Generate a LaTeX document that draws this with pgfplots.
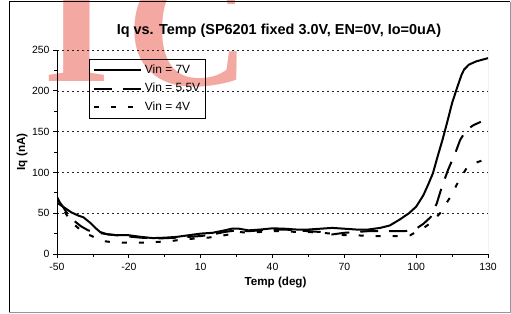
\documentclass[border=0pt]{standalone}
\usepackage{pgfplots}
\pgfplotsset{compat=1.18}
\usepackage{fontspec}
\setmainfont{Liberation Sans}
\newfontfamily\wmfont{Liberation Serif}
\definecolor{wmred}{RGB}{244,168,162}
\definecolor{framegray}{RGB}{150,150,150}
\begin{document}
\begin{tikzpicture}[x=1bp,y=1bp]
\path[use as bounding box] (0,0) rectangle (511,313);
% watermark
\node[wmred, font=\wmfont\bfseries\fontsize{172}{172}\selectfont, anchor=base, inner sep=0pt] at (77,232) {I};
\node[wmred, font=\wmfont\bfseries\fontsize{172}{172}\selectfont, anchor=base, inner sep=0pt] at (188,228) {C};
\node[wmred, font=\wmfont\bfseries\fontsize{172}{172}\selectfont, anchor=base east, inner sep=0pt] at (9,232) {E};
% frame
\draw[framegray, line width=1bp] (510,311) -- (510,1) -- (9,1);
\draw[black, line width=1bp] (9,1) -- (9,311) -- (510,311);
% title
\node[font=\bfseries\fontsize{14.5}{17}\selectfont] at (279,282) {Iq vs. Temp (SP6201 fixed 3.0V, EN=0V, Io=0uA)};
\begin{axis}[
  at={(57bp,59bp)}, anchor=south west, scale only axis,
  width=431bp, height=204bp,
  xmin=-50, xmax=130, ymin=0, ymax=250,
  xtick={-50,-20,10,40,70,100,130},
  ytick={0,50,100,150,200,250},
  minor x tick num=1, minor y tick num=1,
  axis x line*=bottom, axis y line*=left,
  axis line style={line width=1bp, -},
  ymajorgrids,
  grid style={dash pattern=on 2bp off 3bp, line width=0.6bp, black!85},
  tick style={black, line width=0.8bp},
  tick align=outside, major tick length=4bp, minor tick length=3bp,
  /pgf/number format/assume math mode=true,
  tick label style={font=\fontsize{10.5}{12}\selectfont},
  xticklabel style={yshift=-2bp},
  xlabel={Temp (deg)}, ylabel={Iq (nA)},
  label style={font=\bfseries\fontsize{11.7}{14}\selectfont},
  xlabel style={at={(axis description cs:0.507,-0.142)}, anchor=center},
  ylabel style={at={(axis description cs:-0.0812,0.5)}, anchor=center, rotate=0},
  legend style={at={(rel axis cs:0.0742,0.956)}, anchor=north west, draw=black, line width=0.8bp, fill=none,
    font=\fontsize{12}{14}\selectfont, inner sep=4bp, row sep=4.5bp, column sep=1.5bp,
    nodes={inner sep=1bp, text height=9bp, text depth=3bp, anchor=west}},
  legend cell align=left,
  legend image code/.code={\draw[#1] (0bp,0bp) -- (47bp,0bp);},
  every axis plot/.append style={line width=2bp, black},
]
\draw[framegray, line width=1bp] (rel axis cs:1,0) -- (rel axis cs:1,1);
\addplot[solid] coordinates {
(-50,63) (-47,57) (-44,51) (-41,47) (-39,45) (-36,38) (-34,32) (-32,27) (-29,24) (-25,23) (-20,23) (-15,21) (-10,19.5) (-5,20) (0,21) (5,23) (10,25) (15,26) (20,29) (23,31) (26,31) (30,29) (35,30) (40,31.5) (45,31) (50,30) (55,30) (60,31) (65,32) (70,31) (75,30) (80,30) (85,32) (89,35) (93,42) (97,50) (100,58) (103,72) (105,85) (107,99) (109,120) (111,140) (113,162) (115,185) (117,203) (119,220) (120,226) (122,232) (125,236) (130,240)
};
\addlegendentry{Vin = 7V}
\addplot[dash pattern=on 18bp off 11bp] coordinates {
(-50,68) (-48,60) (-46,51) (-43,41) (-40,34) (-37,29) (-33,26) (-28,24) (-22,22) (-15,20) (-8,19) (0,20) (5,21) (10,22) (15,24) (20,27) (25,29) (30,28) (35,29) (40,30) (45,30) (50,29) (55,28) (60,27) (65,24) (70,26) (75,27) (80,28) (85,28) (90,28) (95,28) (98,29) (100,31) (103,37) (106,45) (108.6,62) (110.7,82) (113.3,103) (116.3,123.5) (118.4,140) (121,152) (124,158) (127,162)
};
\addlegendentry{Vin = 5.5V}
\addplot[dash pattern=on 5bp off 12bp] coordinates {
(-50,70) (-48,58) (-46,48) (-44,40) (-42,34) (-40,29) (-37,24) (-34,20) (-31,16) (-27,14.5) (-22,14) (-17,14) (-12,14) (-7,15) (-2,16) (3,18) (8,19) (13,20) (18,22) (22,24) (26,27) (30,26) (35,27) (40,28) (45,28) (50,27) (55,27) (60,26) (65,25) (70,23) (75,23) (80,22) (85,22) (90,22) (95,22) (97.5,23) (100,27) (103,31.6) (106,38) (110,50) (114,68.6) (117.5,88) (121,105) (124,111) (127,114) (128,116)
};
\addlegendentry{Vin = 4V}
\end{axis}
\end{tikzpicture}
\end{document}
